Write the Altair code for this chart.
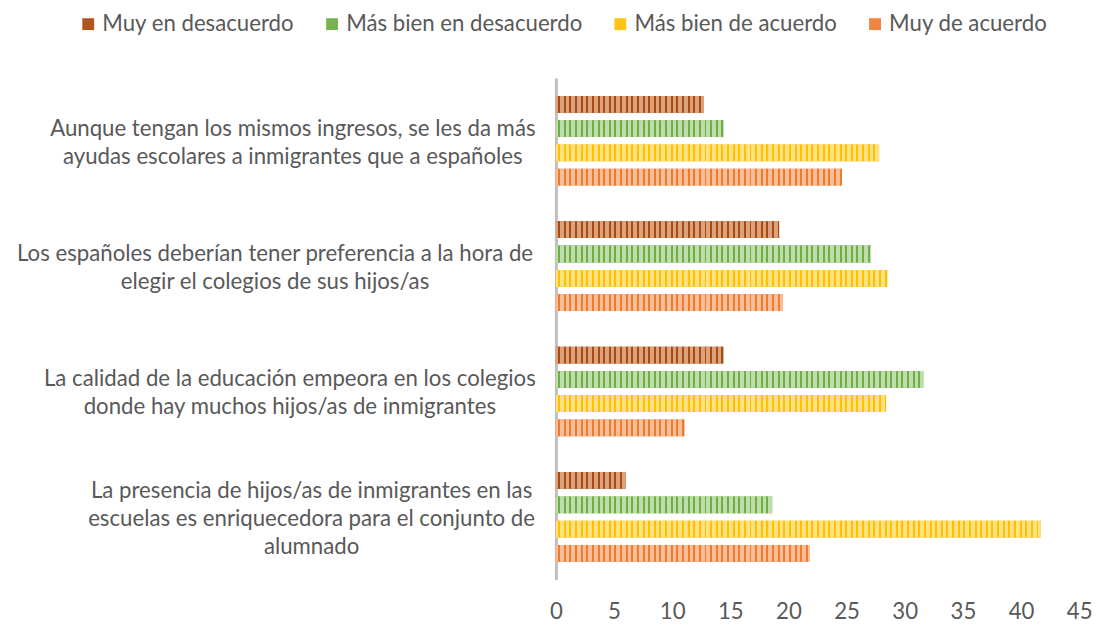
import altair as alt

categories = [
    "Aunque tengan los mismos ingresos, se les da más|ayudas escolares a inmigrantes que a españoles",
    "Los españoles deberían tener preferencia a la hora de|elegir el colegios de sus hijos/as",
    "La calidad de la educación empeora en los colegios|donde hay muchos hijos/as de inmigrantes",
    "La presencia de hijos/as de inmigrantes en las|escuelas es enriquecedora para el conjunto de|alumnado",
]
series = ["Muy en desacuerdo", "Más bien en desacuerdo", "Más bien de acuerdo", "Muy de acuerdo"]
values = {
    "Muy en desacuerdo":      [12.7, 19.2, 14.4, 6.0],
    "Más bien en desacuerdo": [14.4, 27.1, 31.6, 18.6],
    "Más bien de acuerdo":    [27.8, 28.5, 28.4, 41.7],
    "Muy de acuerdo":         [24.6, 19.5, 11.1, 21.8],
}
x_ticks = [0, 5, 10, 15, 20, 25, 30, 35, 40, 45]

stripe_colors = ["#A64B12", "#6FAD45", "#FFC000", "#EF7B2E"]
light_colors = ["#DDA27C", "#BFDDAB", "#FFE083", "#F8BE98"]
legend_colors = ["#B05520", "#78B352", "#FFC414", "#F08440"]

W, H = 530, 508
PX_PER_UNIT = W / 45.0
PERIOD, STRIPE_W, STRIPE_OFF = 5.7, 2.0, 2.3
LINE_H = 28.5


def stripe_gradient(length_px, dark, light):
    stops = [{"offset": 0, "color": light}]
    s = 0.0
    while s + STRIPE_OFF < length_px:
        a = (s + STRIPE_OFF) / length_px
        b = min((s + STRIPE_OFF + STRIPE_W) / length_px, 1.0)
        stops += [
            {"offset": a, "color": light},
            {"offset": a, "color": dark},
            {"offset": b, "color": dark},
            {"offset": b, "color": light},
        ]
        s += PERIOD
    stops.append({"offset": 1, "color": light})
    return {"gradient": "linear", "x1": 0, "y1": 0, "x2": 1, "y2": 0, "stops": stops}


rows = []
for si, s in enumerate(series):
    for ci, c in enumerate(categories):
        v = values[s][ci]
        rows.append({
            "category": c,
            "series": s,
            "value": v,
            "grad": stripe_gradient(v * PX_PER_UNIT, stripe_colors[si], light_colors[si]),
        })

data = alt.Data(values=rows)

font = "Lato"
txt = "#595959"
FS = 22.5

# horizontal centre of each multi-line category label, in page pixels
label_centers = [289, 271, 286, 308]


def test_for(c):
    return "indexof(datum.value, '%s') == 0" % c[:20]


pad_cond = [{"test": test_for(c), "value": 556 - label_centers[i]} for i, c in enumerate(categories)]
off_cond = [
    {"test": test_for(c), "value": -(len(c.split("|")) - 1) * LINE_H / 2 + 2}
    for c in categories
]

y_enc = alt.Y(
    "category:N",
    sort=categories,
    title=None,
    scale=alt.Scale(paddingInner=0.225, paddingOuter=0.1125),
    axis=alt.Axis(
        labelExpr="split(datum.label, '|')",
        labelAlign="center",
        labelBaseline="middle",
        labelLineHeight=LINE_H,
        labelFont=font,
        labelFontSize=FS,
        labelColor=txt,
        labelLimit=0,
        labelPadding={"condition": pad_cond, "value": 270},
        labelOffset={"condition": off_cond, "value": 0},
        ticks=False,
        tickSize=0,
        domainColor="#BFBFBF",
        domainWidth=3,
        grid=False,
    ),
)
yoff_enc = alt.YOffset("series:N", sort=series, scale=alt.Scale(paddingInner=0.31, paddingOuter=0.155))
x_enc = alt.X(
    "value:Q",
    stack=None,
    title=None,
    scale=alt.Scale(domain=[0, 45], nice=False, zero=True),
    axis=alt.Axis(
        values=x_ticks,
        domain=False,
        ticks=False,
        grid=False,
        labelFlush=False,
        labelFont=font,
        labelFontSize=FS,
        labelColor=txt,
        labelPadding=21,
        labelBaseline="top",
    ),
)

base = alt.Chart(data).mark_bar(stroke=None).encode(
    y=y_enc,
    yOffset=yoff_enc,
    x=x_enc,
    color=alt.Color(
        "series:N",
        sort=series,
        scale=alt.Scale(domain=series, range=legend_colors),
        legend=alt.Legend(
            title=None,
            orient="none",
            direction="horizontal",
            columns=4,
            legendX=-485,
            legendY=-66,
            symbolType="square",
            symbolSize=144,
            symbolStrokeWidth=0,
            labelFont=font,
            labelFontSize=FS,
            labelColor=txt,
            labelOffset=3,
            columnPadding=27,
            labelLimit=500,
        ),
    ),
)

stripes = alt.Chart(data).mark_bar(stroke=None).encode(
    y=y_enc,
    yOffset=yoff_enc,
    x=x_enc,
    color=alt.Color("grad:N", scale=None, legend=None),
)

chart = (
    alt.layer(base, stripes)
    .properties(
        width=W,
        height=H,
        autosize=alt.AutoSizeParams(type="none"),
        padding={"left": 555, "top": 67, "right": 13, "bottom": 42},
    )
    .configure(background="white")
    .configure_view(stroke=None)
)

chart.save("out.html", embed_options={"renderer": "svg", "actions": False})
